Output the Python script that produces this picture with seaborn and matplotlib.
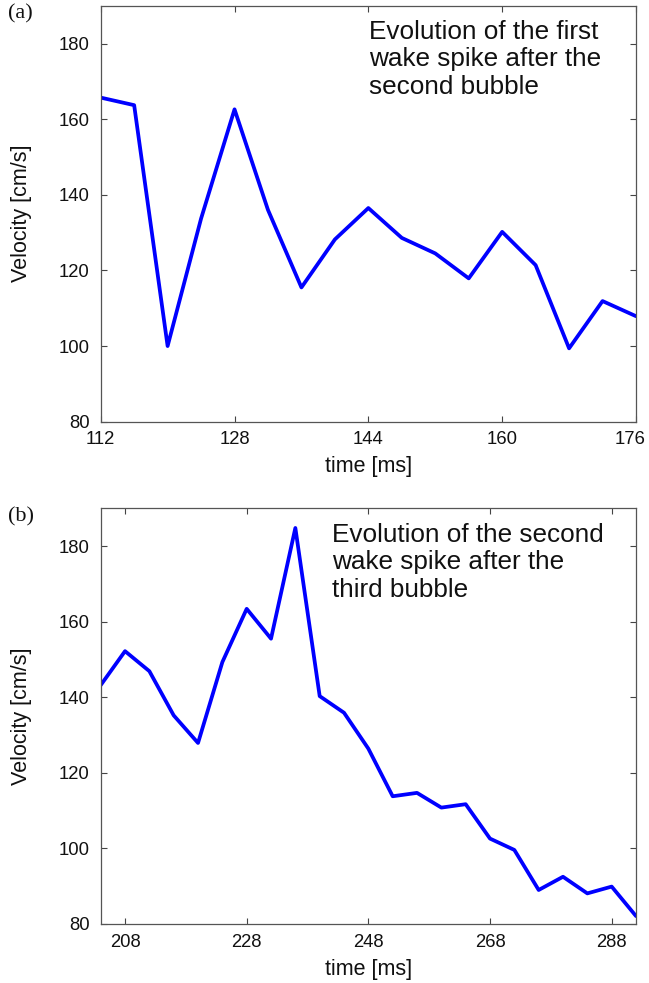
import matplotlib
matplotlib.use("Agg")
import matplotlib.pyplot as plt
import matplotlib.transforms as mtransforms
import seaborn as sns
import pandas as pd

# Panel (a)
time_a = [112, 116, 120, 124, 128, 132, 136, 140, 144, 148, 152, 156, 160, 164, 168, 172, 176]
vel_a = [165.7, 163.7, 100.0, 133.7, 162.6, 136.0, 115.5, 128.2, 136.5, 128.6, 124.5, 117.9,
         130.2, 121.4, 99.4, 111.9, 107.9]
xticks_a = [112, 128, 144, 160, 176]

# Panel (b)
time_b = [204, 208, 212, 216, 220, 224, 228, 232, 236, 240, 244, 248, 252, 256, 260, 264,
          268, 272, 276, 280, 284, 288, 292]
vel_b = [143.2, 152.2, 146.9, 135.2, 127.9, 149.3, 163.4, 155.5, 184.8, 140.3, 135.9, 126.4,
         113.8, 114.7, 110.8, 111.7, 102.6, 99.6, 89.0, 92.5, 88.1, 89.9, 82.1]
xticks_b = [208, 228, 248, 268, 288]

yticks = [80, 100, 120, 140, 160, 180]
labels = ["(a)", "(b)"]
notes = ["Evolution of the first\nwake spike after the\nsecond bubble",
         "Evolution of the second\nwake spike after the\nthird bubble"]

sns.set_theme(style="white")
plt.rcParams['font.family'] = ['Liberation Sans', 'DejaVu Sans']

fig = plt.figure(figsize=(6.49, 9.83), dpi=100)
W, H = 649, 983
ax_a = fig.add_axes([100.7 / W, 1 - 421.7 / H, 535.3 / W, 416 / H])
ax_b = fig.add_axes([100.7 / W, 1 - 924 / H, 535.3 / W, 415.7 / H])

panels = [
    (ax_a, time_a, vel_a, xticks_a, (112, 176), (369.3, 20)),
    (ax_b, time_b, vel_b, xticks_b, (204, 292), (332.3, 523)),
]

for i, (ax, t, v, xt, xl, tpos) in enumerate(panels):
    df = pd.DataFrame({"time": t, "vel": v})
    sns.lineplot(data=df, x="time", y="vel", ax=ax, color="#0000ff", linewidth=2.7)
    ax.set_xlim(*xl)
    ax.set_ylim(80, 190)
    ax.set_xticks(xt)
    ax.set_yticks(yticks)
    ax.set_xticklabels([str(x) for x in xt])
    ax.set_yticklabels([str(y) for y in yticks])
    ax.tick_params(axis="both", direction="in", length=4, width=0.8, color="#444444",
                   labelsize=13.3, labelcolor="#111111", top=True, right=True,
                   bottom=True, left=True)
    ax.tick_params(axis="x", pad=7)
    ax.tick_params(axis="y", pad=8)
    for s in ax.spines.values():
        s.set_color("#555555")
        s.set_linewidth(0.9)
    ax.set_xlabel("time [ms]", fontsize=15.5, color="#111111")
    ax.set_ylabel("Velocity [cm/s]", fontsize=15.5, color="#111111")
    ax.xaxis.set_label_coords(0.5, -0.083)
    ax.yaxis.set_label_coords(-0.128, 0.5)
    fig.text(tpos[0] / W, 1 - tpos[1] / H, notes[i], fontsize=18.8, color="#111111",
             ha="left", va="top", linespacing=1.18)
    ax_top = 1 - (5.7 if i == 0 else 508.3) / H
    fig.text(8 / W, ax_top + 1 / H, labels[i], fontsize=16, color="#111111",
             family=["Liberation Serif", "DejaVu Serif"], ha="left", va="top")

# shift the last tick label of panel (a) slightly left so it stays inside the figure
last = ax_a.get_xticklabels()[-1]
last.set_transform(last.get_transform() +
                   mtransforms.ScaledTranslation(-4 / 72, 0, fig.dpi_scale_trans))

fig.savefig("out.png", dpi=100)
